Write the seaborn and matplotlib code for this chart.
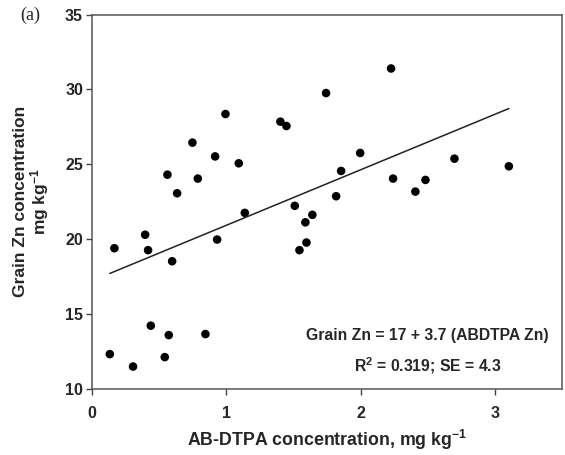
import numpy as np
import pandas as pd
import matplotlib
matplotlib.use('Agg')
import matplotlib.pyplot as plt
import seaborn as sns

# AB-DTPA extractable Zn (mg/kg) vs grain Zn (mg/kg)
abdtpa_zn = [0.166, 0.395, 0.417, 0.596, 0.633, 0.787, 0.931, 1.137, 1.509, 1.588,
             1.640, 1.544, 1.596, 0.132, 0.305, 0.437, 0.571, 0.541, 0.844, 1.742,
             0.993, 1.402, 1.447, 0.747, 0.916, 1.092, 0.561, 2.226, 1.996, 1.854,
             2.698, 3.103, 2.241, 2.482, 2.407, 1.817]
grain_zn = [19.4, 20.3, 19.27, 18.53, 23.07, 24.05, 19.98, 21.76, 22.23, 21.13,
            21.63, 19.27, 19.78, 12.33, 11.5, 14.23, 13.6, 12.13, 13.67, 29.76,
            28.36, 27.85, 27.56, 26.45, 25.53, 25.07, 24.31, 31.4, 25.76, 24.56,
            25.38, 24.87, 24.05, 23.96, 23.18, 22.87]

x_ticks = [0, 1, 2, 3]
y_ticks = [10, 15, 20, 25, 30, 35]

eq_text = 'Grain Zn = 17 + 3.7 (ABDTPA Zn)'
fit_text = 'R$^{2}$ = 0.319; SE = 4.3'

df = pd.DataFrame({'abdtpa': abdtpa_zn, 'grain': grain_zn})

sns.set_style('ticks')
plt.rcParams['font.family'] = ['Liberation Sans', 'DejaVu Sans']
plt.rcParams['font.weight'] = 'bold'
plt.rcParams['mathtext.fontset'] = 'custom'
plt.rcParams['mathtext.rm'] = 'Liberation Sans:bold'
plt.rcParams['mathtext.default'] = 'rm'

fig = plt.figure(figsize=(5.65, 4.55), dpi=100)
ax = fig.add_axes([0.163, 0.145, 0.832, 0.823])

sns.regplot(data=df, x='abdtpa', y='grain', ci=None, ax=ax,
            scatter_kws={'s': 38, 'color': 'black', 'edgecolor': 'none', 'alpha': 1},
            line_kws={'color': '#222222', 'linewidth': 1.1})

ax.set_xlim(0, 3.5)
ax.set_ylim(10, 35)
ax.set_xticks(x_ticks)
ax.set_yticks(y_ticks)
ax.tick_params(axis='both', direction='out', length=4.5, width=1, color='#444444',
               labelsize=11.5)
ax.tick_params(axis='x', pad=8)
ax.tick_params(axis='y', pad=2)
for lab in ax.get_xticklabels() + ax.get_yticklabels():
    lab.set_fontweight('bold')
for sp in ax.spines.values():
    sp.set_visible(True)
    sp.set_color('#555555')
    sp.set_linewidth(1.1)

ax.set_xlabel('AB-DTPA concentration, mg kg$^{-1}$', fontsize=12.8, fontweight='bold', labelpad=5)
ax.set_ylabel('Grain Zn concentration\nmg kg$^{-1}$', fontsize=12.5, fontweight='bold',
              labelpad=10, linespacing=1.0)

ax.text(0.713, 0.142, eq_text, transform=ax.transAxes, ha='center', va='center',
        fontsize=11.3, fontweight='bold')
ax.text(0.713, 0.062, fit_text, transform=ax.transAxes, ha='center', va='center',
        fontsize=11.3, fontweight='bold')

fig.text(0.035, 0.967, '(a)', family='Liberation Serif', fontweight='normal',
         fontsize=13, ha='left', va='center')

plt.savefig('out.png', dpi=100)
